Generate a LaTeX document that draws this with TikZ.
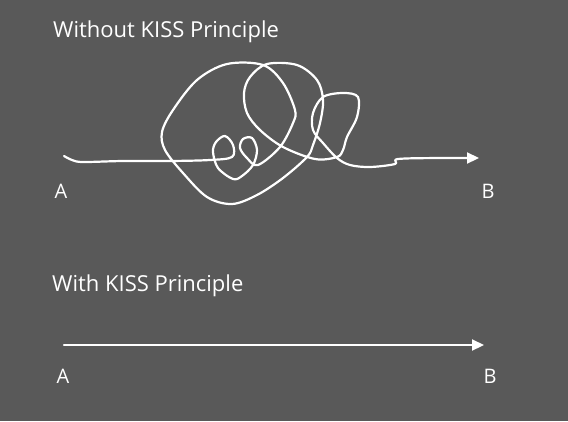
\documentclass[tikz,border=0pt]{standalone}
\usepackage{fontspec}
\setmainfont{Open Sans}
\usetikzlibrary{arrows.meta}
\definecolor{bggray}{HTML}{595959}
\tikzset{
	pen/.style={line width=2.2pt, color=white, line cap=round, line join=round},
	tip/.style={-{Triangle[length=12pt,width=11pt]}},
	lbl/.style={text=white, font=\fontsize{20}{22}\selectfont, inner sep=0pt},
	title/.style={text=white, font=\fontsize{22}{24}\selectfont, inner sep=0pt, anchor=west}
}

\begin{document}
\begin{tikzpicture}[x=1pt, y=-1pt]
			%%%%% START %%%%%
			
			\fill[bggray] (0, 0) rectangle (568, 421);
			\useasboundingbox (0, 0) rectangle (568, 421);
			
			\node[title] (top) at (53, 32) {Without KISS Principle};
			\node[title] (bottom) at (52, 286) {With KISS Principle};
			
			\coordinate (s1) at (64, 156);
			\coordinate (e1) at (479, 158);
			\coordinate (s2) at (64, 345);
			\coordinate (e2) at (484, 345);
			
			\node[lbl] (a1) at (61, 191) {A};
			\node[lbl] (b1) at (488, 191) {B};
			\node[lbl] (a2) at (63, 376) {A};
			\node[lbl] (b2) at (490, 376) {B};
			
			% the tangled way
			\draw[pen] plot[smooth, tension=0.55] coordinates {
				(s1) (72, 160) (83, 162) (123, 161) (170, 161) (210, 160) (232, 157)
				(233, 145) (225, 136) (216, 142) (213, 152) (218, 168) (233, 179) (242, 176)
				(253, 165) (257, 150) (252, 138) (243, 139) (240, 148) (247, 158) (258, 165)
				(280, 147) (293, 123) (295, 110) (283, 83) (263, 65) (227, 64) (197, 80)
				(173, 110) (162, 132) (165, 150) (183, 173) (207, 197) (232, 204) (257, 195)
				(283, 178) (307, 157) (313, 145) (320, 123) (323, 100) (317, 80) (297, 65)
				(267, 64) (250, 77) (244, 93) (247, 113) (260, 130) (283, 147) (315, 159)
				(337, 157) (343, 150) (347, 137) (357, 117) (358, 97) (343, 93) (323, 97)
				(313, 113) (313, 130) (323, 143) (337, 158) (350, 165) (370, 167) (395, 164)
				(398, 159) (440, 158) (468, 158)};
			\draw[pen, tip] (466, 158) -- (e1);
			
			% the simple way
			\draw[pen, tip] (s2) -- (e2);
			
			%%%%% END %%%%%
\end{tikzpicture}
\end{document}
